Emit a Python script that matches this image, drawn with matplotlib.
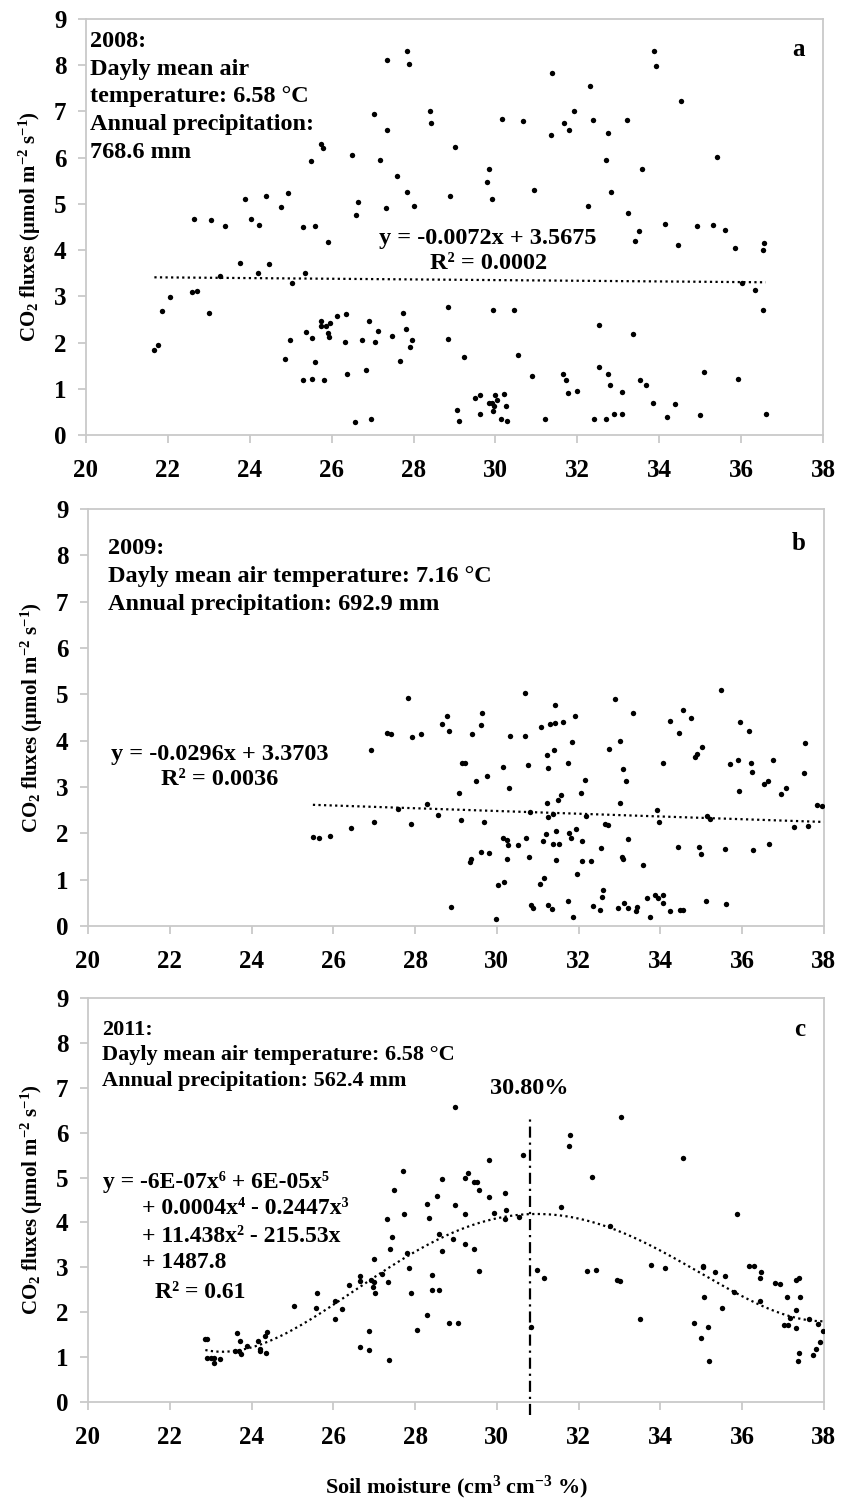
import numpy as np
import matplotlib
matplotlib.use("Agg")
import matplotlib.pyplot as plt

plt.rcParams['font.family'] = ['Liberation Serif', 'DejaVu Serif']
plt.rcParams['font.weight'] = 'bold'
plt.rcParams['mathtext.fontset'] = 'custom'
plt.rcParams['mathtext.rm'] = 'Liberation Serif:bold'
plt.rcParams['mathtext.bf'] = 'Liberation Serif:bold'
plt.rcParams['mathtext.it'] = 'Liberation Serif:bold:italic'

# ---------------- data ----------------
a_x = [21.67,21.75,21.86,22.05,22.59,22.72,22.64,23.00,23.05,23.28,23.39,23.75,23.88,24.03,24.19,24.23,24.39,24.48,
       24.76,24.94,24.85,24.98,25.04,25.31,25.34,25.30,25.37,25.50,25.51,25.51,25.59,25.59,25.73,25.78,25.73,25.73,
       25.81,25.86,25.90,25.93,25.96,25.92,26.12,26.34,26.33,26.38,26.49,26.56,26.64,26.60,26.74,26.85,26.91,26.96,
       27.04,27.05,27.14,27.18,27.36,27.36,27.32,27.48,27.60,27.67,27.75,27.83,27.82,27.85,27.88,27.91,27.96,28.02,
       28.40,28.43,29.02,28.89,28.85,28.83,29.22,29.06,29.10,29.85,29.80,29.91,29.95,30.15,30.46,30.55,30.68,30.95,30.89,
       29.50,29.63,29.62,29.84,29.92,29.99,30.04,29.97,29.93,30.22,30.27,30.14,30.29,
       31.20,31.38,31.36,31.68,31.80,31.92,31.64,31.72,31.78,32.00,32.31,32.39,32.25,32.54,32.53,32.74,32.81,32.41,32.69,
       32.75,32.69,32.82,32.90,33.08,33.09,33.22,33.23,33.40,33.51,33.58,33.37,33.53,33.67,33.85,33.87,33.92,34.14,34.45,
       34.19,34.38,34.54,34.93,35.10,34.99,35.31,35.42,35.60,35.84,36.01,36.33,35.92,36.56,36.53,36.54,36.60]
a_y = [1.84,1.94,2.68,2.99,3.09,3.12,4.68,2.63,4.65,3.44,4.53,3.73,5.11,4.67,3.51,4.54,5.16,3.69,
       4.93,5.24,1.64,2.06,3.28,4.50,3.51,1.18,2.22,5.93,1.21,2.10,4.53,1.59,6.30,6.21,2.47,2.36,
       1.18,2.36,2.20,2.11,2.42,4.18,2.58,2.61,2.01,1.33,6.05,0.29,5.05,4.77,2.06,1.40,2.46,0.35,
       6.94,2.02,2.24,5.94,8.11,6.60,4.91,2.15,5.60,1.60,2.65,5.25,2.30,8.31,8.02,1.91,2.06,4.95,
       7.00,6.75,6.22,5.17,2.78,2.07,1.69,0.54,0.30,5.76,5.47,5.10,2.71,6.84,2.71,1.74,6.79,5.31,1.28,
       0.81,0.87,0.46,0.70,0.70,0.87,0.76,0.63,0.53,0.89,0.63,0.34,0.30,
       0.35,7.83,6.49,6.74,6.60,7.01,1.33,1.20,0.91,0.96,7.56,6.81,4.96,2.37,1.48,1.33,1.08,0.35,0.34,
       6.54,5.94,5.25,0.46,0.46,0.92,6.81,4.80,4.20,4.41,5.75,2.19,1.20,1.08,0.70,8.31,7.99,4.56,4.12,
       0.38,0.68,7.22,4.53,1.36,0.43,4.54,6.01,4.43,4.04,3.28,3.13,1.21,4.15,4.01,2.70,0.46]

b_x = [25.50,25.64,25.93,26.43,26.93,27.00,27.31,27.41,27.58,27.83,27.92,27.89,28.15,28.30,28.56,28.66,28.78,28.84,
       28.88,29.08,29.15,29.21,29.12,29.35,29.37,29.38,29.49,29.60,29.64,29.61,29.68,29.76,29.80,29.97,30.02,30.15,
       30.14,30.17,30.25,30.26,30.25,30.30,30.33,30.51,30.68,30.69,30.71,30.77,30.79,30.81,30.83,30.89,31.05,31.09,
       31.12,31.15,31.20,31.22,31.23,31.24,31.25,31.26,31.30,31.34,31.37,31.38,31.39,31.42,31.43,31.44,31.45,31.49,
       31.53,31.58,31.62,31.73,31.74,31.77,31.82,31.84,31.86,31.90,31.94,31.96,32.05,32.08,32.08,32.16,32.18,32.29,
       32.36,32.51,32.55,32.57,32.59,32.64,32.71,32.75,32.89,32.97,33.00,33.02,33.07,33.08,33.08,33.11,33.15,33.20,
       33.20,33.34,33.41,33.43,33.58,33.66,33.74,33.86,33.91,33.93,33.96,34.07,34.07,34.07,34.23,34.24,34.43,34.45,
       34.48,34.56,34.55,34.74,34.84,34.89,34.94,34.99,35.01,35.11,35.15,35.21,35.47,35.58,35.60,35.70,35.90,35.93,
       35.95,36.16,36.22,36.24,36.27,36.53,36.64,36.65,36.75,36.94,37.06,37.26,37.51,37.54,37.61,37.84,37.94]
b_y = [1.92,1.89,1.94,2.11,3.79,2.25,4.17,4.15,2.53,4.93,4.07,2.20,4.15,2.63,2.40,4.36,4.53,4.21,
       0.42,2.87,3.51,3.51,2.29,1.38,1.44,4.15,3.13,4.33,4.59,1.60,2.25,3.24,1.58,0.15,0.89,3.43,
       1.89,0.96,1.86,1.74,1.45,2.98,4.10,1.74,5.02,4.10,1.89,3.48,1.49,2.45,0.46,0.38,0.91,4.29,
       1.84,1.04,1.99,2.65,3.69,3.41,2.35,0.45,4.35,0.37,1.78,2.42,3.79,4.39,4.77,2.06,1.42,2.71,
       1.76,2.82,4.41,0.53,3.51,2.01,1.89,3.97,0.19,4.54,2.10,1.13,2.86,1.83,1.41,3.15,2.37,1.40,
       0.44,0.35,1.68,0.62,0.78,2.20,2.17,3.83,4.90,0.39,3.99,2.66,1.50,1.45,3.38,0.49,3.13,0.38,
       1.88,4.60,0.32,0.41,1.32,0.60,0.19,0.67,2.51,0.61,2.25,0.66,0.50,3.51,0.32,4.42,1.70,4.16,
       0.34,0.34,4.66,4.50,3.65,3.71,1.71,1.55,3.87,0.55,2.38,2.31,5.10,1.66,0.47,3.49,3.59,2.92,
       4.41,4.20,3.51,3.33,1.65,3.07,3.12,1.76,3.59,2.84,2.97,2.13,3.31,3.95,2.16,2.61,2.58]

c_x = [22.87,22.92,22.92,23.01,23.07,23.08,23.23,23.64,23.60,23.69,23.71,23.73,23.89,24.15,24.20,24.20,24.32,24.38,
       24.36,25.05,25.60,25.57,26.04,26.04,26.20,26.39,26.64,26.66,26.64,26.87,26.87,26.92,26.96,26.99,27.01,27.00,
       27.20,27.31,27.34,27.39,27.44,27.36,27.48,27.70,27.72,27.80,27.84,27.91,28.04,
       28.28,28.33,28.30,28.42,28.41,28.59,28.53,28.59,28.65,28.66,28.84,29.04,28.93,28.98,28.98,29.23,29.29,29.23,
       29.23,29.44,29.45,29.52,29.57,29.57,29.81,29.81,29.93,30.21,30.22,30.21,30.55,30.65,30.83,30.99,31.14,31.58,
       31.78,31.77,32.33,32.21,32.42,32.77,32.94,33.02,33.03,33.50,33.77,34.10,34.54,34.82,35.03,35.04,35.07,35.00,
       35.16,35.18,35.34,35.51,35.59,35.80,35.88,36.17,36.29,36.47,36.43,36.43,36.80,36.92,37.09,37.01,37.12,37.18,
       37.32,37.39,37.41,37.31,37.32,37.38,37.37,37.63,37.73,37.80,37.85,37.91,37.98]
c_y = [1.40,1.40,0.98,0.99,0.87,0.99,0.95,1.53,1.14,1.14,1.35,1.08,1.25,1.36,1.18,1.14,1.48,1.56,
       1.10,2.14,2.42,2.10,2.24,1.84,2.07,2.61,2.81,2.69,1.23,1.59,1.15,2.71,2.57,3.18,2.42,2.67,
       2.86,4.08,2.68,3.41,3.67,0.94,4.72,5.15,4.19,3.32,2.98,2.43,1.61,
       4.40,4.11,1.93,2.84,2.49,2.49,4.59,3.74,4.96,3.36,1.76,1.75,3.64,6.58,4.38,4.98,5.11,4.18,
       3.52,3.41,4.89,4.89,4.72,2.91,4.56,5.38,4.22,4.66,4.27,4.08,4.13,5.50,1.67,2.95,2.76,4.34,
       5.94,5.71,5.01,2.91,2.95,3.92,2.72,2.70,6.36,1.84,3.06,2.98,5.44,1.77,3.04,3.00,2.33,1.43,
       1.67,0.91,2.89,2.10,2.80,2.45,4.18,3.02,3.02,2.89,2.77,2.25,2.64,2.62,2.34,1.71,1.71,1.87,
       2.71,2.77,2.34,2.05,1.64,1.09,0.91,1.86,1.05,1.17,1.73,1.34,1.59]

a_trend = (-0.0072, 3.5675)
b_trend = (-0.0296, 3.3703)
c_fit_degree = 4
c_peak = 30.80

x_ticks = [20, 22, 24, 26, 28, 30, 32, 34, 36, 38]
y_ticks = [0, 1, 2, 3, 4, 5, 6, 7, 8, 9]

# ---------------- figure ----------------
W, H = 842, 1502
fig = plt.figure(figsize=(W / 100, H / 100), dpi=100)

def px_axes(l, t, r, b):
    return fig.add_axes([l / W, 1 - b / H, (r - l) / W, (b - t) / H])

ax_a = px_axes(86, 19, 823, 435)
ax_b = px_axes(88, 509, 824, 926)
ax_c = px_axes(88, 998, 824, 1402)

SP = '#c9c9c9'
ylab = 'CO$_2$ fluxes (μmol m$^{-2}$ s$^{-1}$)'

def style(ax):
    ax.set_xlim(20, 38)
    ax.set_ylim(0, 9)
    ax.set_xticks(x_ticks)
    ax.set_yticks(y_ticks)
    for s in ax.spines.values():
        s.set_color(SP)
        s.set_linewidth(1.3)
    ax.tick_params(axis='both', direction='out', length=6, width=1.3, color=SP,
                   labelsize=18)
    ax.tick_params(axis='x', pad=11)
    ax.tick_params(axis='y', pad=8)
    for lab in ax.get_xticklabels() + ax.get_yticklabels():
        lab.set_fontweight('bold')
    ax.text(-0.076, 0.5, ylab, transform=ax.transAxes, rotation=90, ha='center',
            va='center', fontsize=15, fontweight='bold')

MS = 15
for ax in (ax_a, ax_b, ax_c):
    style(ax)

DOT = (0, (1, 1.5))

# Panel a
ax_a.scatter(a_x, a_y, s=MS, color='black', zorder=3, linewidths=0)
xa = np.linspace(min(a_x), max(a_x), 100)
ax_a.plot(xa, np.polyval(a_trend, xa), color='black', lw=1.6, linestyle=DOT)
ax_a.text(0.006, 0.972, '2008:\nDayly mean air\ntemperature: 6.58 °C\nAnnual precipitation:\n768.6 mm',
          transform=ax_a.transAxes, ha='left', va='top', fontsize=17.5, fontweight='bold', linespacing=1.43)
ax_a.text(0.975, 0.955, 'a', transform=ax_a.transAxes, ha='right', va='top', fontsize=18, fontweight='bold')
ax_a.text(29.82, 3.98, 'y = -0.0072x + 3.5675\nR² = 0.0002', ha='center', va='center',
          fontsize=17.5, fontweight='bold', multialignment='center', linespacing=1.25)

# Panel b
ax_b.scatter(b_x, b_y, s=MS, color='black', zorder=3, linewidths=0)
xb = np.linspace(min(b_x), 38, 100)
ax_b.plot(xb, np.polyval(b_trend, xb), color='black', lw=1.6, linestyle=DOT)
ax_b.text(0.027, 0.93, '2009:\nDayly mean air temperature: 7.16 °C\nAnnual precipitation: 692.9 mm',
          transform=ax_b.transAxes, ha='left', va='top', fontsize=17.5, fontweight='bold', linespacing=1.43)
ax_b.text(0.975, 0.945, 'b', transform=ax_b.transAxes, ha='right', va='top', fontsize=18, fontweight='bold')
ax_b.text(23.23, 3.43, 'y = -0.0296x + 3.3703\nR² = 0.0036', ha='center', va='center',
          fontsize=17.5, fontweight='bold', multialignment='center', linespacing=1.25)

# Panel c
ax_c.scatter(c_x, c_y, s=MS, color='black', zorder=3, linewidths=0)
cx = np.array(c_x)
coef = np.polyfit(cx - 30, np.array(c_y), c_fit_degree)
xc = np.linspace(cx.min(), cx.max(), 200)
ax_c.plot(xc, np.polyval(coef, xc - 30), color='black', lw=1.6, linestyle=DOT)
ax_c.plot([c_peak, c_peak], [-0.3, 6.36], color='black', lw=1.6,
          linestyle=(0, (5, 2.2, 1, 2.2)), clip_on=False)
ax_c.text(c_peak, 6.99, '30.80%', ha='center', va='center', fontsize=17.5, fontweight='bold')
ax_c.text(0.019, 0.945, '2011:\nDayly mean air temperature: 6.58 °C\nAnnual precipitation: 562.4 mm',
          transform=ax_c.transAxes, ha='left', va='top', fontsize=16, fontweight='bold', linespacing=1.35)
ax_c.text(0.975, 0.95, 'c', transform=ax_c.transAxes, ha='right', va='top', fontsize=18, fontweight='bold')
eq_lines = [('y = -6E-07x⁶ + 6E-05x⁵', 0.020, 4.90),
            ('+ 0.0004x⁴ - 0.2447x³', 0.073, 4.32),
            ('+ 11.438x² - 215.53x', 0.073, 3.68),
            ('+ 1487.8', 0.073, 3.10),
            ('R² = 0.61', 0.091, 2.45)]
for txt, xf, yv in eq_lines:
    ax_c.text(xf, yv, txt, transform=ax_c.get_yaxis_transform(), ha='left', va='center',
              fontsize=17, fontweight='bold')
ax_c.set_xlabel('Soil moisture (cm$^3$ cm$^{-3}$ %)', fontsize=16, fontweight='bold', labelpad=18)

fig.savefig('out.png', dpi=100)
